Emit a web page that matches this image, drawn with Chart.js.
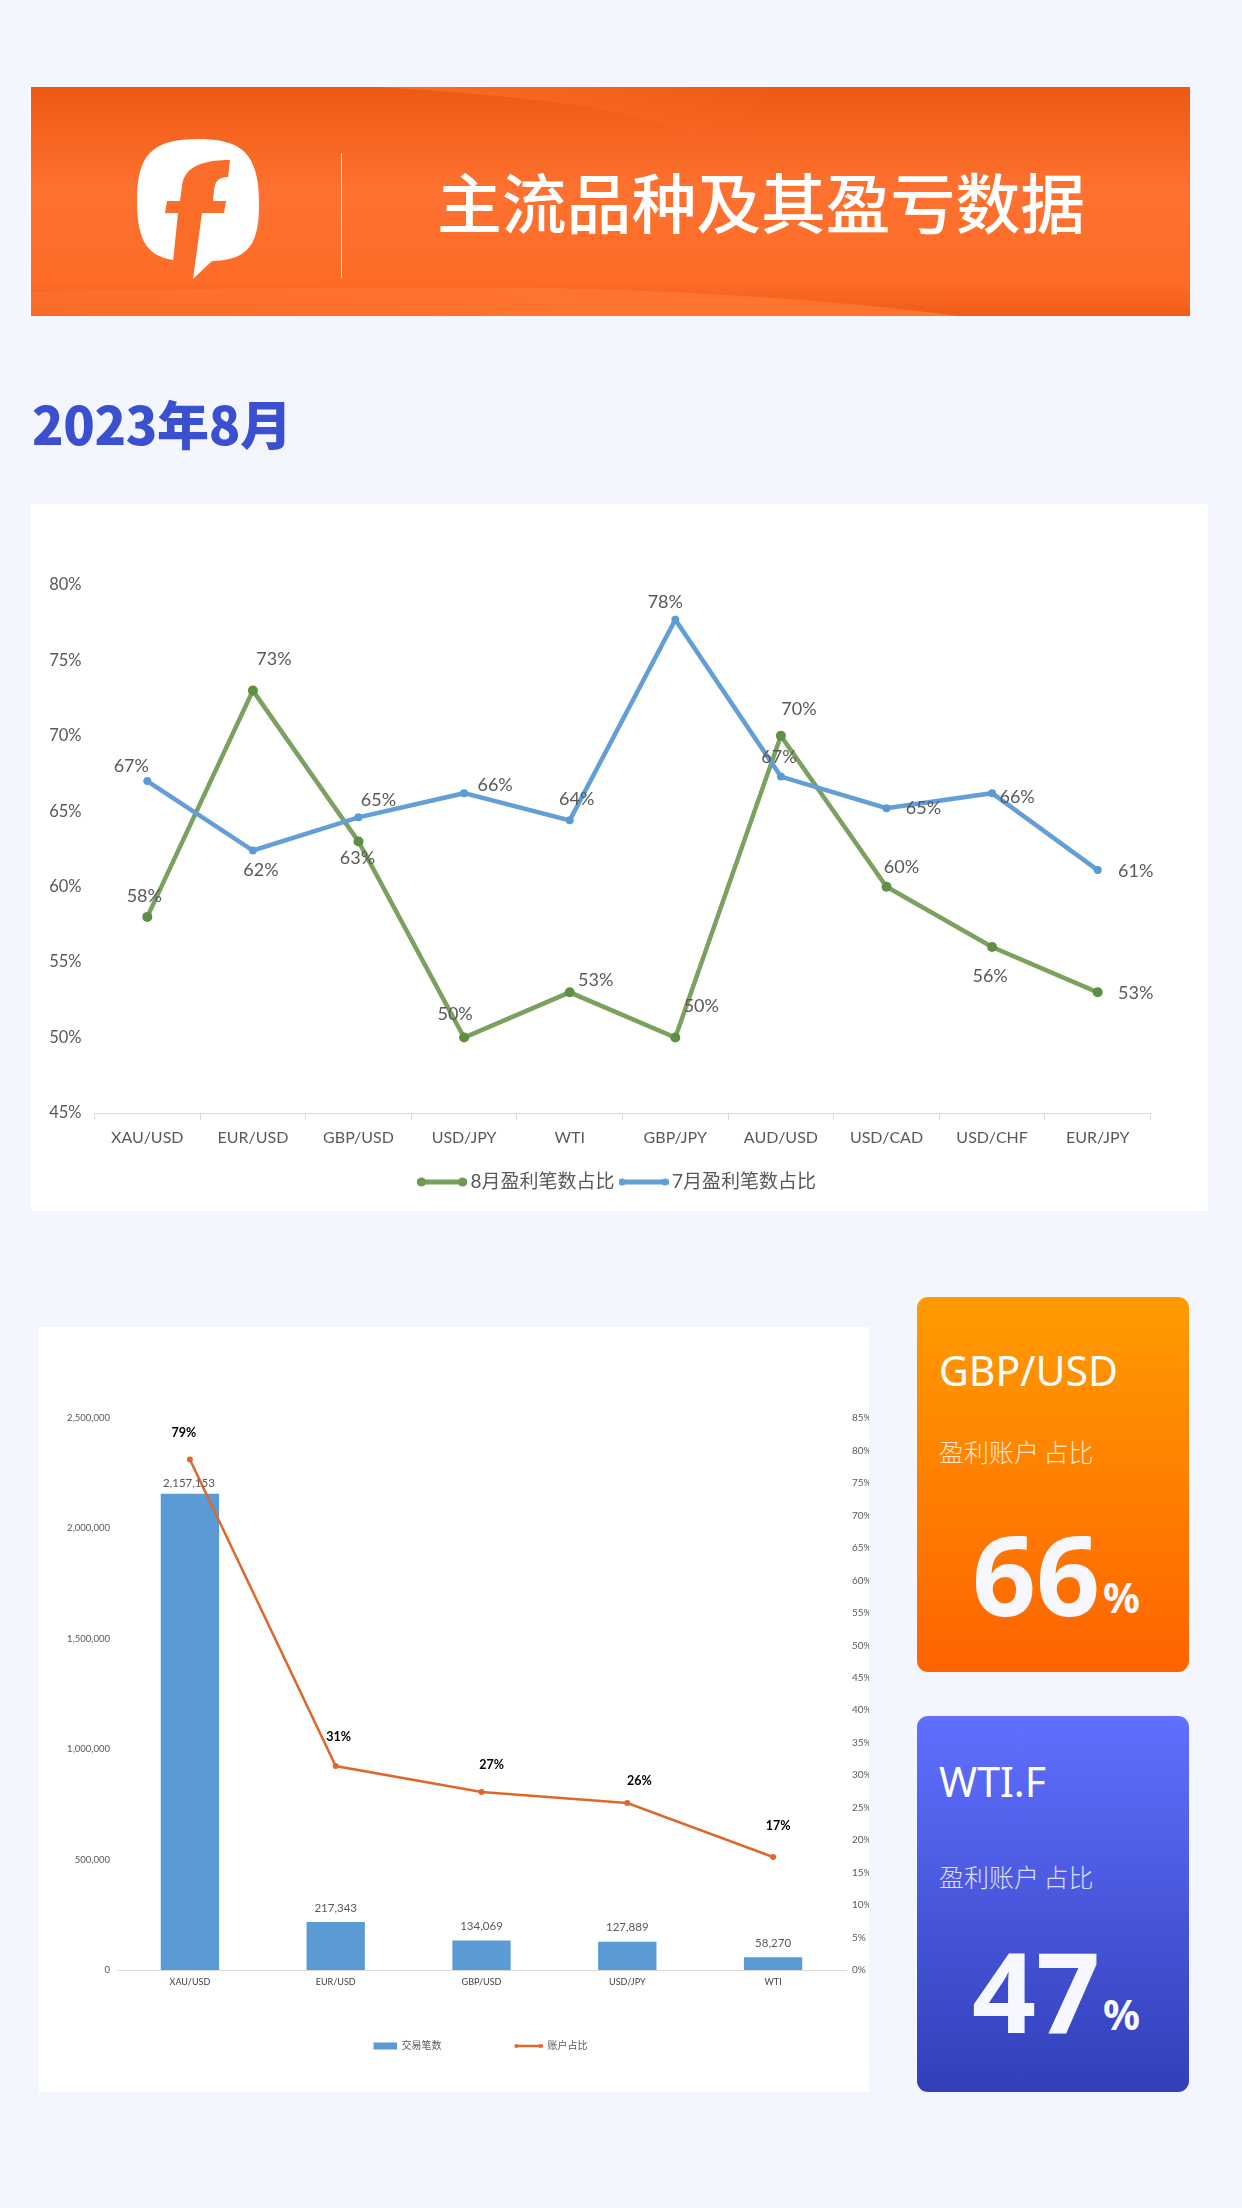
<!DOCTYPE html>
<html lang="zh">
<head>
<meta charset="utf-8">
<title>主流品种及其盈亏数据</title>
<script src="https://cdn.jsdelivr.net/npm/chart.js@4"></script>
<style>
  html, body { margin: 0; padding: 0; }
  body {
    position: relative; width: 1242px; height: 2208px; overflow: hidden;
    background: #f4f6ff;
    font-family: "Noto Sans CJK SC", "Noto Sans", sans-serif;
  }
  .abs { position: absolute; white-space: nowrap; }
  #banner { left: 31px; top: 87px; width: 1159px; height: 229px; }
  #bannerTitle { left: 437px; top: 154px; font-size: 64.8px; line-height: 92px; font-weight: 500; color: #fff; }
  #month { left: 32px; top: 387px; font-size: 52px; line-height: 72px; font-weight: 900; color: #3b50cf; letter-spacing: -.4px; }
  .panel { position: absolute; background: #fff; }
  #panelLine { left: 31px; top: 504px; width: 1177px; height: 707px; }
  #panelBar { left: 39px; top: 1327px; width: 830px; height: 765px; }
  .card { position: absolute; left: 917px; width: 272px; border-radius: 11px; color: #fff; }
  #cardGbp { top: 1297px; height: 375px; background: linear-gradient(#ff9c00, #fe6300); }
  #cardWti { top: 1716px; height: 376px; background: linear-gradient(#6070ff, #313fb8); }
  .pair { left: 22px; font-size: 41px; line-height: 50px; font-family: "Noto Sans", sans-serif; }
  .sub { left: 22px; font-size: 25px; line-height: 34px; font-weight: 300; opacity: .8; word-spacing: -1px; }
  .big { left: 55px; font-size: 112px; line-height: 130px; font-weight: 700; font-family: "Noto Sans", sans-serif; color: #f6f7ff; }
  .pct { left: 186px; font-size: 41px; line-height: 50px; font-weight: 700; font-family: "Noto Sans", sans-serif; color: #f6f7ff; }
</style>
</head>
<body>

<svg id="banner" class="abs" viewBox="31 87 1159 229">
  <defs>
    <linearGradient id="bannerBg" x1="0" y1="0" x2="0" y2="1">
      <stop offset="0" stop-color="#ee5912"/>
      <stop offset=".45" stop-color="#fe7130"/>
      <stop offset=".86" stop-color="#fc6c26"/>
      <stop offset="1" stop-color="#ef5c14"/>
    </linearGradient>
    <linearGradient id="topWave" gradientUnits="userSpaceOnUse" x1="380" y1="87" x2="780" y2="87">
      <stop offset="0" stop-color="#ff7430" stop-opacity=".7"/>
      <stop offset="1" stop-color="#ff7430" stop-opacity="0"/>
    </linearGradient>
    <linearGradient id="lowWave" gradientUnits="userSpaceOnUse" x1="31" y1="300" x2="620" y2="300">
      <stop offset="0" stop-color="#ff7430" stop-opacity=".6"/>
      <stop offset="1" stop-color="#ff7430" stop-opacity="1"/>
    </linearGradient>
  </defs>
  <rect x="31" y="87" width="1159" height="229" fill="url(#bannerBg)"/>
  <path d="M380 87 C520 96 640 108 689 135 L780 135 L780 87 Z" fill="url(#topWave)"/>
  <path d="M31 316 L31 292 C250 288 450 285 618 290 C760 295 880 305 959 316 Z" fill="url(#lowWave)"/>
  <path d="M198 139 C244 139 259 155 259 205 C259 245 248 260 212 261 L193 279 L173 260 C147 256 137 240 137 200 C137 155 152 139 198 139 Z" fill="#fff"/>
  <path d="M230 160 L228 177 C218 177 215 182 214 190 L213 201 L226 201 L224 213 L202 213 L193 279 L173 262 L178 213 L165 213 L167 201 L180 201 L182 186 C184 168 200 160 230 160 Z" fill="#fa6d28"/>
  <line x1="341.5" y1="153" x2="341.5" y2="278" stroke="#fff" stroke-opacity=".8" stroke-width="1"/>
</svg>
<div id="bannerTitle" class="abs">主流品种及其盈亏数据</div>
<div id="month" class="abs">2023年8月</div>

<div id="panelLine" class="panel"><canvas id="lineChart" width="1177" height="707"></canvas></div>
<div id="panelBar" class="panel"><canvas id="barChart" width="830" height="765"></canvas></div>

<div id="cardGbp" class="card">
  <div class="abs pair" style="top:48px">GBP/USD</div>
  <div class="abs sub" style="top:137px">盈利账户 占比</div>
  <div class="abs big" style="top:211px">66</div>
  <div class="abs pct" style="top:275px">%</div>
</div>
<div id="cardWti" class="card">
  <div class="abs pair" style="top:40px">WTI.F</div>
  <div class="abs sub" style="top:143px">盈利账户 占比</div>
  <div class="abs big" style="top:209px">47</div>
  <div class="abs pct" style="top:273px">%</div>
</div>

<script>
// 数据
const lineCategories = ['XAU/USD', 'EUR/USD', 'GBP/USD', 'USD/JPY', 'WTI', 'GBP/JPY', 'AUD/USD', 'USD/CAD', 'USD/CHF', 'EUR/JPY'];
const augustShare = [58, 73, 63, 50, 53, 50, 70, 60, 56, 53];
const julyShare = [67, 62.4, 64.6, 66.2, 64.4, 77.7, 67.3, 65.2, 66.2, 61.1];

const barCategories = ['XAU/USD', 'EUR/USD', 'GBP/USD', 'USD/JPY', 'WTI'];
const tradeCounts = [2157153, 217343, 134069, 127889, 58270];
const accountShare = [78.6, 31.4, 27.4, 25.7, 17.4];

// 数据标签相对点的偏移 (px)
const augustOffsets = [[-3, -21], [21, -31], [-1, 17], [-9, -23], [26, -12], [26, -31], [18, -27], [15, -20], [-2, 29], [38, 1]];
const julyOffsets = [[-16, -15], [8, 20], [20, -17], [31, -8], [7, -21], [-10, -18], [-2, -19], [37, 0], [25, 4], [38, 1]];
const tradeOffsets = [[-1, -10], [0, -14], [0, -14], [0, -14], [0, -14]];
const accountOffsets = [[-6, -27], [3, -29], [10, -27], [12, -22], [5, -31]];

const latin = 'Lato, "Noto Sans CJK SC", sans-serif';
const grey = '#595959';

// 数据标签
const valueLabels = {
    id: 'valueLabels',
    afterDatasetsDraw(chart) {
        const ctx = chart.ctx;
        chart.data.datasets.forEach((ds, i) => {
            if (!ds.labelOffsets) return;
            const meta = chart.getDatasetMeta(i);
            ctx.save();
            ctx.font = ds.labelFont;
            ctx.fillStyle = ds.labelColor;
            ctx.textAlign = 'center';
            ctx.textBaseline = 'middle';
            meta.data.forEach((el, j) => {
                const off = ds.labelOffsets[j];
                ctx.fillText(ds.labelFormat(ds.data[j]), el.x + off[0], el.y + off[1]);
            });
            ctx.restore();
        });
    }
};

// 图例图标
function lineIcon(color, dotColor, total, lineW, r, thick) {
    const c = document.createElement('canvas');
    c.width = total;
    c.height = 14;
    const g = c.getContext('2d');
    g.strokeStyle = color;
    g.lineWidth = thick;
    g.beginPath();
    g.moveTo(total - lineW, 7);
    g.lineTo(total, 7);
    g.stroke();
    g.fillStyle = dotColor;
    [total - lineW + r, total - r].forEach(x => {
        g.beginPath();
        g.arc(x, 7, r, 0, Math.PI * 2);
        g.fill();
    });
    return c;
}

function swatchIcon(color, total, w, h) {
    const c = document.createElement('canvas');
    c.width = total;
    c.height = 14;
    const g = c.getContext('2d');
    g.fillStyle = color;
    g.fillRect(total - w, 7 - h / 2, w, h);
    return c;
}

function legendItems(icons) {
    return chart => {
        const items = Chart.defaults.plugins.legend.labels.generateLabels(chart);
        items.forEach(it => { it.pointStyle = icons[it.datasetIndex]; });
        return items;
    };
}

const lineIcons = [lineIcon('#78a05c', '#6f9a52', 50, 50, 4.5, 5), lineIcon('#619fd6', '#619fd6', 50, 50, 3.5, 5)];

// 折线图
new Chart(document.getElementById('lineChart'), {
    type: 'line',
    data: {
        labels: lineCategories,
        datasets: [{
            label: '8月盈利笔数占比',
            data: augustShare,
            borderColor: '#7aa15f',
            borderWidth: 4.5,
            pointRadius: 5,
            pointBackgroundColor: '#5f8f44',
            pointBorderWidth: 0,
            tension: 0,
            order: 2,
            labelOffsets: augustOffsets,
            labelFont: '18px ' + latin,
            labelColor: grey,
            labelFormat: v => Math.round(v) + '%'
        }, {
            label: '7月盈利笔数占比',
            data: julyShare,
            borderColor: '#639fd6',
            borderWidth: 4.5,
            pointRadius: 4,
            pointBackgroundColor: '#5b9bd5',
            pointBorderWidth: 0,
            tension: 0,
            order: 1,
            labelOffsets: julyOffsets,
            labelFont: '18px ' + latin,
            labelColor: grey,
            labelFormat: v => Math.round(v) + '%'
        }]
    },
    options: {
        responsive: false,
        animation: false,
        layout: { padding: { top: 81, bottom: 9.5 } },
        plugins: {
            tooltip: { enabled: false },
            legend: {
                position: 'bottom',
                labels: {
                    usePointStyle: true,
                    pointStyleWidth: 38,
                    generateLabels: legendItems(lineIcons),
                    sort: (a, b) => a.datasetIndex - b.datasetIndex,
                    color: grey,
                    font: { family: latin, size: 19 }
                }
            }
        },
        scales: {
            x: {
                offset: true,
                grid: { offset: true, drawOnChartArea: false, color: '#d9d9d9', tickLength: 7 },
                border: { color: '#d9d9d9' },
                ticks: { color: grey, padding: 8, maxRotation: 0, autoSkip: false, font: { family: latin, size: 16 } },
                afterFit: s => { s.height = 49.5; }
            },
            y: {
                min: 45,
                max: 80,
                grid: { display: false, drawTicks: false },
                border: { display: false },
                ticks: { stepSize: 5, color: grey, padding: 13, font: { family: latin, size: 16.5 }, callback: v => v + '%' },
                afterFit: s => { s.width = 63.5; }
            },
            // 右侧留白
            yGutter: {
                position: 'right',
                grid: { display: false, drawTicks: false },
                border: { display: false },
                ticks: { display: false },
                afterFit: s => { s.width = 57.5; }
            }
        }
    },
    plugins: [valueLabels]
});

const barIcons = [swatchIcon('#5b9bd5', 76, 23, 7), lineIcon('#e0672c', '#e0672c', 76, 28, 2, 2.5)];

// 柱状图
new Chart(document.getElementById('barChart'), {
    type: 'bar',
    data: {
        labels: barCategories,
        datasets: [{
            label: '交易笔数',
            data: tradeCounts,
            backgroundColor: '#5b9bd5',
            categoryPercentage: 1,
            barPercentage: 0.4,
            order: 2,
            yAxisID: 'y',
            labelOffsets: tradeOffsets,
            labelFont: '11.5px ' + latin,
            labelColor: grey,
            labelFormat: v => v.toLocaleString('en-US')
        }, {
            type: 'line',
            label: '账户占比',
            data: accountShare,
            borderColor: '#e0672c',
            borderWidth: 2.5,
            pointRadius: 3,
            pointBackgroundColor: '#e0672c',
            pointBorderWidth: 0,
            tension: 0,
            order: 1,
            yAxisID: 'y1',
            labelOffsets: accountOffsets,
            labelFont: 'bold 12.5px ' + latin,
            labelColor: '#000',
            labelFormat: v => Math.round(v) + '%'
        }]
    },
    options: {
        responsive: false,
        animation: false,
        layout: { padding: { top: 91, bottom: 31 } },
        plugins: {
            tooltip: { enabled: false },
            legend: {
                position: 'bottom',
                labels: {
                    usePointStyle: true,
                    pointStyleWidth: 76,
                    padding: 25,
                    generateLabels: legendItems(barIcons),
                    sort: (a, b) => a.datasetIndex - b.datasetIndex,
                    color: grey,
                    font: { family: latin, size: 10 }
                }
            }
        },
        scales: {
            x: {
                grid: { display: false, drawTicks: false },
                border: { color: '#d9d9d9' },
                ticks: { color: '#404040', padding: 7, font: { family: latin, size: 9 } },
                afterFit: s => { s.height = 46; }
            },
            y: {
                min: 0,
                max: 2500000,
                grid: { display: false, drawTicks: false },
                border: { display: false },
                ticks: { stepSize: 500000, color: grey, padding: 7, font: { family: latin, size: 9.5 }, callback: v => v.toLocaleString('en-US') },
                afterFit: s => { s.width = 78; }
            },
            y1: {
                position: 'right',
                min: 0,
                max: 85,
                grid: { display: false, drawTicks: false },
                border: { display: false },
                ticks: { stepSize: 5, color: grey, padding: 6, font: { family: latin, size: 10 }, callback: v => v + '%' },
                afterFit: s => { s.width = 23; }
            }
        }
    },
    plugins: [valueLabels]
});
</script>
</body>
</html>
